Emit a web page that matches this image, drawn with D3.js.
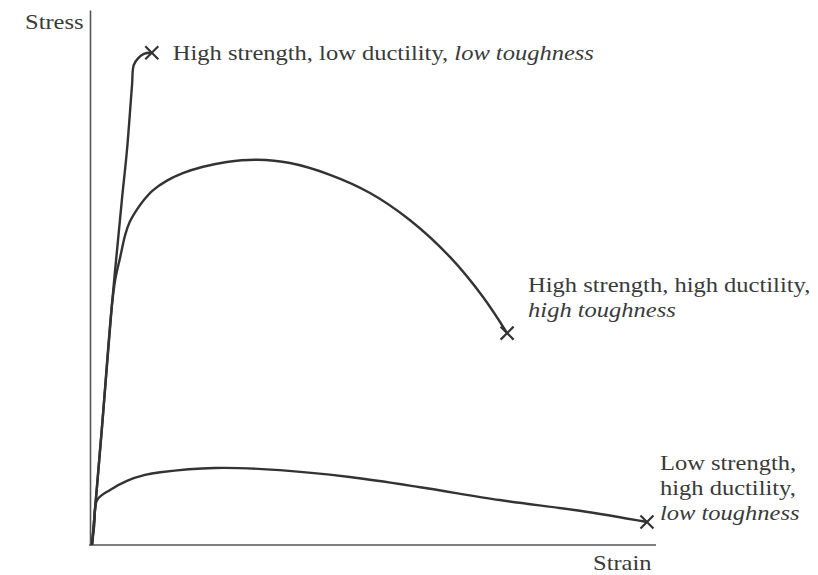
<!DOCTYPE html>
<html>
<head>
<meta charset="utf-8">
<script src="https://cdn.jsdelivr.net/npm/d3@7"></script>
<style>
  body { margin: 0; background: #fff; }
  text { font-family: "Liberation Serif", "DejaVu Serif", serif; fill: #3a3a3a; }
</style>
</head>
<body>
<svg class="chart" width="818" height="575"></svg>
<script>
// stress-strain curves, [strain, stress] in arbitrary units
var brittle = [[0, 0], [1.8, 22.4], [3.5, 44.5], [5.3, 64.5], [6.2, 73.8], [7.1, 86.0],
               [7.4, 89.7], [8.2, 91.0], [9.2, 91.8], [10.6, 92.0]];
var tough = [[0, 0], [1.8, 22.4], [3.5, 44.5], [4.1, 49.5], [5.0, 53.8], [5.9, 58.0],
             [6.7, 60.4], [7.9, 62.6], [9.2, 64.5], [10.8, 66.3], [13.3, 68.1],
             [16.1, 69.5], [19.7, 70.7], [23.9, 71.6], [29.3, 72.0], [35.1, 71.4],
             [42.2, 69.2], [49.3, 65.8], [56.4, 60.7], [63.5, 53.8], [69.3, 46.4],
             [73.6, 39.6]];
var ductile = [[0, 0], [0.4, 3.7], [0.9, 8.4], [3.2, 10.3], [6.2, 12.0], [9.4, 13.1],
               [12.1, 13.6], [21.8, 14.4], [33.3, 14.0], [45.7, 12.7], [58.2, 10.8],
               [72.3, 8.4], [86.5, 6.4], [98.4, 4.3]];

var labels = [
  { curve: brittle, lines: [[["High strength, low ductility, ", false], ["low toughness", true]]], dx: 21, dy: 7 },
  { curve: tough, lines: [[["High strength, high ductility,", false]], [["high toughness", true]]], dx: 21, dy: -41 },
  { curve: ductile, lines: [[["Low strength,", false]], [["high ductility,", false]], [["low toughness", true]]], dx: 13, dy: -52 }
];

var svg = d3.select(".chart");

var x = d3.scaleLinear().domain([0, 100]).range([92, 656]);
var y = d3.scaleLinear().domain([0, 100]).range([545, 10]);

var axisColor = "#555";
var fontSize = 21.5, stretch = 1.14;

svg.append("g")
    .attr("transform", "translate(0,545)")
    .call(d3.axisBottom(x).tickValues([]).tickSizeOuter(0))
    .select(".domain").attr("stroke", axisColor).attr("stroke-width", 1.6)
    .attr("d", "M89,0H656");

svg.append("g")
    .attr("transform", "translate(90,0)")
    .call(d3.axisLeft(y).tickValues([]).tickSizeOuter(0))
    .select(".domain").attr("stroke", axisColor).attr("stroke-width", 1.6);

var line = d3.line()
    .x(d => x(d[0]))
    .y(d => y(d[1]))
    .curve(d3.curveCatmullRom.alpha(0.5));

[brittle, tough, ductile].forEach(c => {
  svg.append("path")
      .attr("d", line(c))
      .attr("fill", "none")
      .attr("stroke", "#333")
      .attr("stroke-width", 2.4);

  // fracture mark
  var end = c[c.length - 1];
  var ex = x(end[0]), ey = y(end[1]), s = 6.5;
  svg.append("path")
      .attr("d", `M${ex - s},${ey - s}L${ex + s},${ey + s}M${ex - s},${ey + s}L${ex + s},${ey - s}`)
      .attr("stroke", "#333")
      .attr("stroke-width", 2.2);
});

function label(px, py) {
  return svg.append("g")
      .attr("transform", `translate(${px},${py}) scale(${stretch},1)`)
    .append("text")
      .attr("font-size", fontSize);
}

labels.forEach(l => {
  var end = l.curve[l.curve.length - 1];
  var t = label(x(end[0]) + l.dx, y(end[1]) + l.dy);
  l.lines.forEach((ln, i) => {
    ln.forEach((part, j) => {
      var ts = t.append("tspan").text(part[0]);
      if (j === 0) ts.attr("x", 0).attr("dy", i === 0 ? 0 : 25);
      if (part[1]) ts.attr("font-style", "italic");
    });
  });
});

label(25, 29).text("Stress");
label(593, 570).text("Strain");
</script>
</body>
</html>
